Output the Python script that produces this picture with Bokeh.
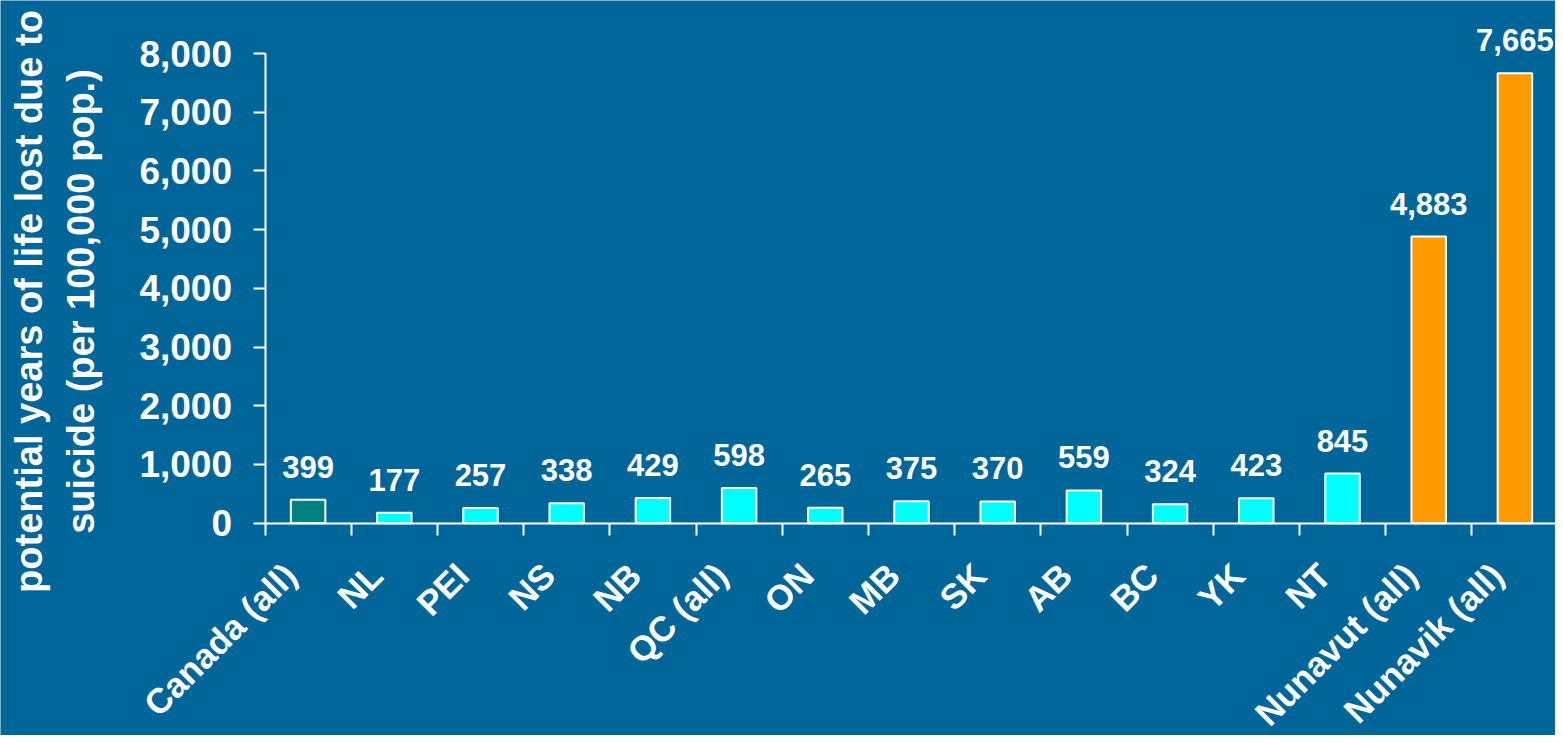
import math
from bokeh.plotting import figure
from bokeh.models import Range1d, FixedTicker, NumeralTickFormatter, ColumnDataSource, LabelSet, Label
from bokeh.core.properties import value
from bokeh.embed import file_html
from bokeh.resources import INLINE

# ---- data ----
categories = ["Canada (all)", "NL", "PEI", "NS", "NB", "QC (all)", "ON", "MB", "SK",
              "AB", "BC", "YK", "NT", "Nunavut (all)", "Nunavik (all)"]
values = [399, 177, 257, 338, 429, 598, 265, 375, 370, 559, 324, 423, 845, 4883, 7665]
bar_colors = ["#008080"] + ["#00FFFF"] * 12 + ["#FF9900", "#FF9900"]
y_ticks = [0, 1000, 2000, 3000, 4000, 5000, 6000, 7000, 8000]
y_title_1 = "potential years of life lost due to"
y_title_2 = "suicide (per 100,000 pop.)"

BG = "#006699"
FONT = value("Liberation Sans")

W, H = 1555, 735
X0_PX, CAT_PX = 264.5, 86.2           # x=0 position and px per category
Y0_PX, Y_PX = 522.7, 469.7 / 8000     # y=0 position and px per unit

n = len(categories)
xs = [i + 0.5 for i in range(n)]
src = ColumnDataSource(dict(x=xs, top=values, color=bar_colors,
                            label=[f"{v:,}" for v in values], cat=categories,
                            zero=[0] * n))

x_start = -X0_PX / CAT_PX
x_end = x_start + W / CAT_PX
y_end = Y0_PX / Y_PX
y_start = -(H - Y0_PX) / Y_PX

p = figure(width=W, height=H,
           x_range=Range1d(x_start, x_end), y_range=Range1d(y_start, y_end),
           output_backend="svg", toolbar_location=None,
           min_border=0, min_border_left=0, min_border_right=0,
           min_border_top=0, min_border_bottom=0,
           background_fill_color=BG, border_fill_color=BG, outline_line_color=None)

p.xgrid.visible = False
p.ygrid.visible = False

p.vbar(x="x", top="top", bottom=0, width=0.4, source=src,
       fill_color="color", line_color="white", line_width=2)

# value labels
p.add_layout(LabelSet(x="x", y="top", text="label", source=src,
                      text_align="center", text_baseline="alphabetic", y_offset=22,
                      text_color="white", text_font=FONT, text_font_style="bold",
                      text_font_size="31px"))

# category labels (rotated)
p.add_layout(LabelSet(x="x", y="zero", text="cat", source=src,
                      text_align="right", text_baseline="middle", angle=math.pi / 4,
                      x_offset=-18, y_offset=-46,
                      text_color="white", text_font=FONT, text_font_style="bold",
                      text_font_size="35px"))

# y axis
ya = p.yaxis[0]
ya.fixed_location = 0
ya.bounds = (0, 8000)
ya.ticker = FixedTicker(ticks=y_ticks, minor_ticks=[])
ya.formatter = NumeralTickFormatter(format="0,0")
ya.axis_line_color = "white"
ya.axis_line_width = 2
ya.major_tick_line_color = "white"
ya.major_tick_line_width = 2
ya.major_tick_out = 12
ya.major_tick_in = 0
ya.minor_tick_line_color = None
ya.major_label_standoff = 21
ya.major_label_text_color = "white"
ya.major_label_text_font = "Liberation Sans"
ya.major_label_text_font_style = "bold"
ya.major_label_text_font_size = "37px"

# x axis
xa = p.xaxis[0]
xa.fixed_location = 0
xa.bounds = (0, n)
xa.ticker = FixedTicker(ticks=list(range(n + 1)), minor_ticks=[])
xa.axis_line_color = "white"
xa.axis_line_width = 2
xa.major_tick_line_color = "white"
xa.major_tick_line_width = 2
xa.major_tick_out = 12
xa.major_tick_in = 0
xa.minor_tick_line_color = None
xa.major_label_text_font_size = "0px"
xa.major_label_text_color = None

# y axis title (two lines)
for txt, xpos in ((y_title_1, -2.74), (y_title_2, -2.14)):
    p.add_layout(Label(x=xpos, y=3776, text=txt, angle=math.pi / 2,
                       text_align="center", text_baseline="middle",
                       text_color="white", text_font="Liberation Sans", text_font_style="bold",
                       text_font_size="38px"))

open("out.html", "w").write(file_html(p, INLINE))
